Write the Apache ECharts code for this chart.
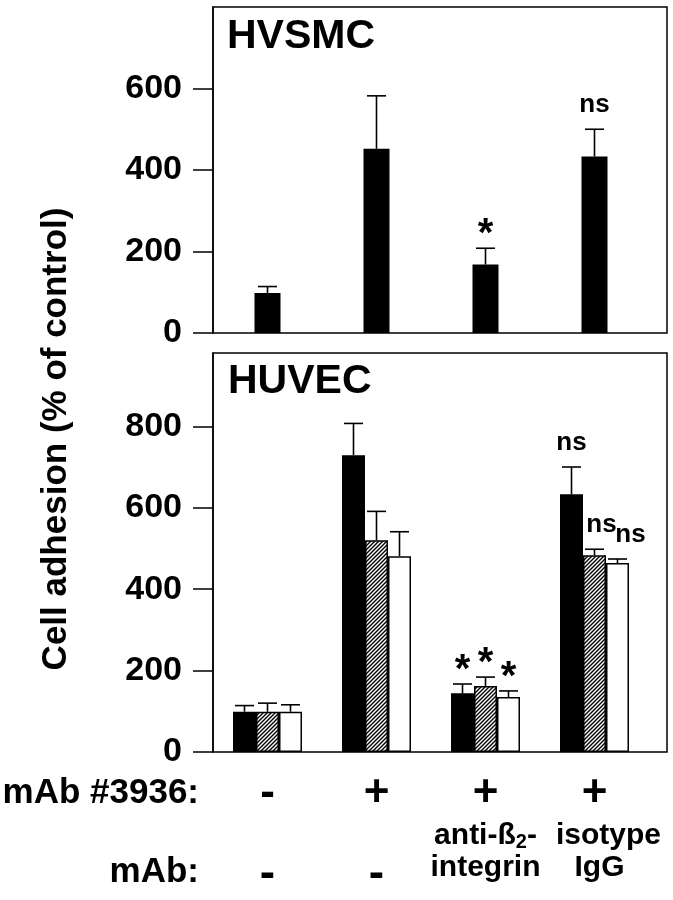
<!DOCTYPE html>
<html>
<head>
<meta charset="utf-8">
<script src="https://cdn.jsdelivr.net/npm/echarts@6/dist/echarts.min.js"></script>
<style>
html,body{margin:0;padding:0;background:#fff;}
#chart{width:673px;height:900px;}
</style>
</head>
<body>
<div id="chart"></div>
<script>
// ---------- data ----------
const categories = ['ctrl', '3936', '3936+anti-b2', '3936+IgG'];
const mab3936 = ['-', '+', '+', '+'];
const mabLabels = ['-', '-', 'anti-ß2-\nintegrin', 'isotype\nIgG'];

const hvsmcMean = [98, 452, 168, 433];
const hvsmcErr = [114, 582, 208, 500];
const hvsmcMark = ['', '', '*', 'ns'];

const huvecBlackMean = [99, 729, 144, 633];
const huvecBlackErr = [114, 807, 167, 700];
const huvecBlackMark = ['', '', '*', 'ns'];

const huvecHatchMean = [99, 520, 162, 483];
const huvecHatchErr = [120, 591, 184, 498];
const huvecHatchMark = ['', '', '*', 'ns'];

const huvecWhiteMean = [99, 481, 135, 464];
const huvecWhiteErr = [116, 541, 150, 474];
const huvecWhiteMark = ['', '', '*', 'ns'];

const topTicks = [0, 200, 400, 600];
const bottomTicks = [0, 200, 400, 600, 800];
const topMax = 800;
const bottomMax = 980;

// ---------- layout / style ----------
const FONT = '"Liberation Sans", Arial, Helvetica, sans-serif';
const L = { left: 213, plotW: 436, boxW: 454,
  top1: 7, h1: 326, top2: 353, h2: 399 };
const barW = 23;

const cv = document.createElement('canvas');
cv.width = 4; cv.height = 4;
const cx = cv.getContext('2d');
cx.fillStyle = '#fff'; cx.fillRect(0, 0, 4, 4);
cx.strokeStyle = '#000'; cx.lineWidth = 1.4;
cx.beginPath();
cx.moveTo(0, 4); cx.lineTo(4, 0);
cx.moveTo(-1, 1); cx.lineTo(1, -1);
cx.moveTo(3, 5); cx.lineTo(5, 3);
cx.stroke();
const hatch = { image: cv, repeat: 'repeat' };

function errSeries(gridIdx, mean, err, marks, offset, nsShift) {
  return {
    type: 'custom',
    xAxisIndex: gridIdx, yAxisIndex: gridIdx,
    z: 5, clip: false,
    data: mean.map((m, i) => [i, err[i], m]),
    encode: { x: 0, y: 1 },
    renderItem: function (params, api) {
      const i = api.value(0);
      const p = api.coord([i, api.value(1)]);
      const b = api.coord([i, api.value(2)]);
      const x = p[0] + offset;
      const ls = { stroke: '#000', lineWidth: 1.6 };
      const ch = [
        { type: 'line', shape: { x1: x, y1: b[1], x2: x, y2: p[1] }, style: ls },
        { type: 'line', shape: { x1: x - 9.5, y1: p[1], x2: x + 9.5, y2: p[1] }, style: ls }
      ];
      const mk = marks[params.dataIndex];
      if (mk === '*') {
        ch.push({ type: 'text', x: x, y: p[1] - 13,
          style: { text: '*', fill: '#000', font: 'bold 40px ' + FONT, align: 'center', verticalAlign: 'middle' } });
      } else if (mk) {
        ch.push({ type: 'text', x: x + nsShift, y: p[1] - 24,
          style: { text: mk, fill: '#000', font: 'bold 26px ' + FONT, align: 'center', verticalAlign: 'middle' } });
      }
      return { type: 'group', children: ch };
    }
  };
}

function yAxis(gridIdx, max, ticks) {
  return {
    type: 'value', gridIndex: gridIdx, min: 0, max: max,
    axisLine: { show: true, lineStyle: { color: '#000', width: 1.5 } },
    axisTick: { show: true, length: 20, lineStyle: { color: '#000', width: 1.5 }, customValues: ticks },
    axisLabel: { margin: 31, color: '#000', fontFamily: FONT, fontWeight: 'bold', fontSize: 34, customValues: ticks },
    splitLine: { show: false }
  };
}

function rowLabel(val, idx) {
  let s = '{sign|' + mab3936[idx] + '}\n';
  const lab = mabLabels[idx];
  if (lab === '-') {
    s += '{t| }\n{dash|-}';
  } else {
    const lines = lab.split('\n');
    const styles = idx === 3 ? ['ta', 'tb'] : ['t', 't'];
    s += lines.map((line, k) => '{' + styles[k] + '|' + line.replace('ß2', 'ß}{sub|2}{' + styles[k] + '|') + '}').join('\n');
  }
  return s;
}

const tStyle = { fontSize: 30, fontWeight: 'bold', fontFamily: FONT, lineHeight: 32, color: '#000' };

const option = {
  backgroundColor: '#fff',
  animation: false,
  grid: [
    { left: L.left, top: L.top1, width: L.plotW, height: L.h1, outerBoundsMode: 'none' },
    { left: L.left, top: L.top2, width: L.plotW, height: L.h2, outerBoundsMode: 'none' }
  ],
  xAxis: [
    { type: 'category', gridIndex: 0, data: categories,
      axisLine: { show: false }, axisTick: { show: false }, axisLabel: { show: false } },
    { type: 'category', gridIndex: 1, data: categories,
      axisLine: { show: false }, axisTick: { show: false },
      axisLabel: {
        show: true, interval: 0, margin: 16, color: '#000', formatter: rowLabel,
        rich: {
          sign: { fontSize: 44, fontWeight: 'bold', fontFamily: FONT, lineHeight: 52, color: '#000' },
          dash: { fontSize: 46, fontWeight: 'bold', fontFamily: FONT, lineHeight: 44, color: '#000' },
          t: tStyle,
          ta: Object.assign({}, tStyle, { padding: [0, 0, 0, 28] }),
          tb: Object.assign({}, tStyle, { padding: [0, 0, 0, 10] }),
          sub: { fontSize: 20, fontWeight: 'bold', fontFamily: FONT, lineHeight: 32, verticalAlign: 'bottom', color: '#000' }
        }
      } }
  ],
  yAxis: [yAxis(0, topMax, topTicks), yAxis(1, bottomMax, bottomTicks)],
  graphic: [
    { type: 'rect', shape: { x: L.left, y: L.top1, width: L.boxW, height: L.h1 },
      style: { fill: 'none', stroke: '#000', lineWidth: 1.5 }, z: 10 },
    { type: 'rect', shape: { x: L.left, y: L.top2, width: L.boxW, height: L.h2 },
      style: { fill: 'none', stroke: '#000', lineWidth: 1.5 }, z: 10 },
    { type: 'text', x: 227, y: 37, style: { text: 'HVSMC', fill: '#000', font: 'bold 41px ' + FONT, textAlign: 'left', textVerticalAlign: 'middle' } },
    { type: 'text', x: 228, y: 382, style: { text: 'HUVEC', fill: '#000', font: 'bold 41px ' + FONT, textAlign: 'left', textVerticalAlign: 'middle' } },
    { type: 'text', x: 56, y: 439, rotation: Math.PI / 2,
      style: { text: 'Cell adhesion (% of control)', fill: '#000', font: 'bold 35px ' + FONT, textAlign: 'center', textVerticalAlign: 'middle' } },
    { type: 'text', x: 199, y: 793, style: { text: 'mAb #3936:', fill: '#000', font: 'bold 35px ' + FONT, textAlign: 'right', textVerticalAlign: 'middle' } },
    { type: 'text', x: 199, y: 872, style: { text: 'mAb:', fill: '#000', font: 'bold 35px ' + FONT, textAlign: 'right', textVerticalAlign: 'middle' } }
  ],
  series: [
    { type: 'bar', xAxisIndex: 0, yAxisIndex: 0, data: hvsmcMean, barWidth: 26,
      itemStyle: { color: '#000' }, z: 2 },
    errSeries(0, hvsmcMean, hvsmcErr, hvsmcMark, 0, 0),

    { type: 'bar', xAxisIndex: 1, yAxisIndex: 1, data: huvecBlackMean, barWidth: barW, barGap: '0%',
      itemStyle: { color: '#000', borderColor: '#000', borderWidth: 1.5 }, z: 2 },
    { type: 'bar', xAxisIndex: 1, yAxisIndex: 1, data: huvecHatchMean, barWidth: barW, barGap: '0%',
      itemStyle: { color: hatch, borderColor: '#000', borderWidth: 1.5 }, z: 2 },
    { type: 'bar', xAxisIndex: 1, yAxisIndex: 1, data: huvecWhiteMean, barWidth: barW, barGap: '0%',
      itemStyle: { color: '#fff', borderColor: '#000', borderWidth: 1.5 }, z: 2 },
    errSeries(1, huvecBlackMean, huvecBlackErr, huvecBlackMark, -barW, 0),
    errSeries(1, huvecHatchMean, huvecHatchErr, huvecHatchMark, 0, 7),
    errSeries(1, huvecWhiteMean, huvecWhiteErr, huvecWhiteMark, barW, 13)
  ]
};

const chart = echarts.init(document.getElementById('chart'), null, { renderer: 'canvas', width: 673, height: 900 });
chart.setOption(option);
</script>
</body>
</html>
